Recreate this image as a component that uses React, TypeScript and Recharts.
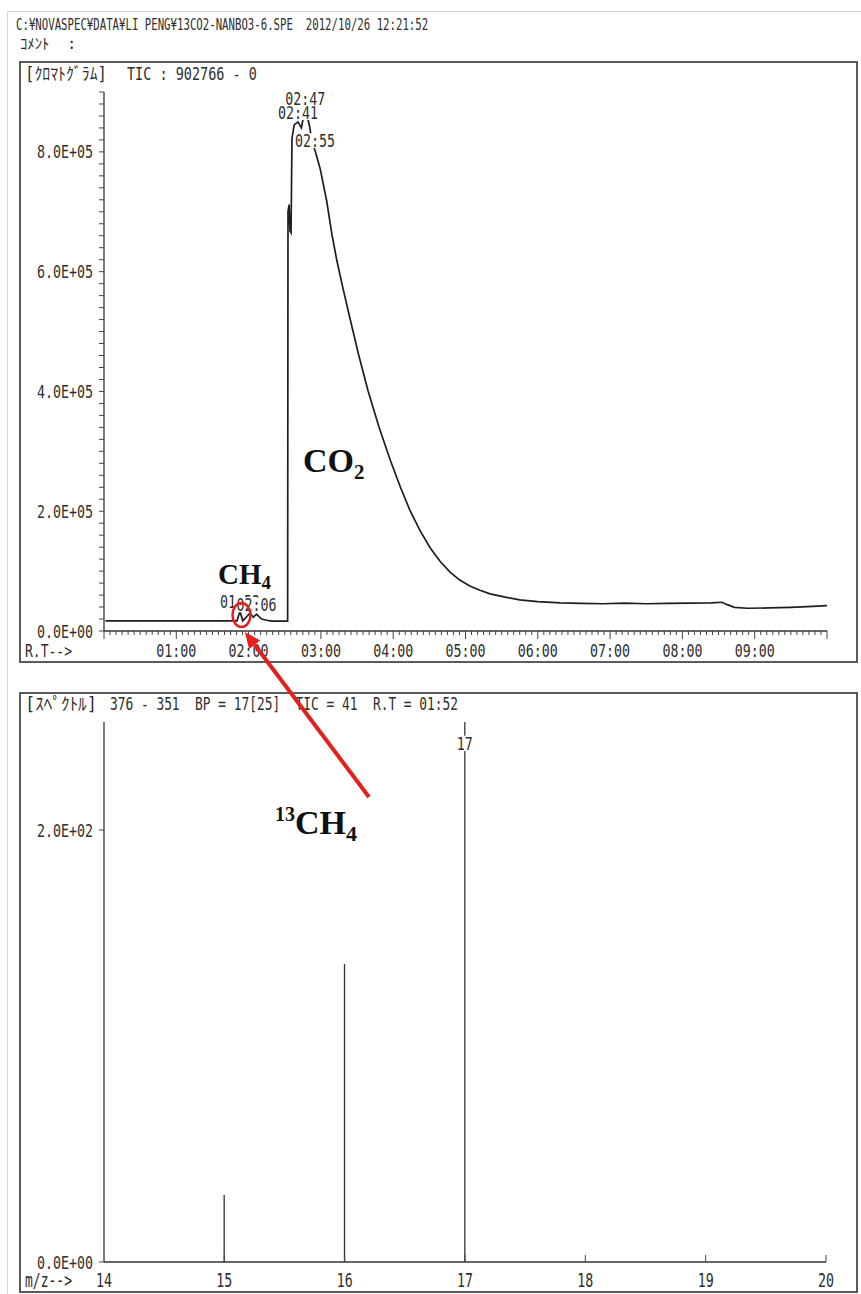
import React from 'react';
import { ComposedChart, Line, Bar, XAxis, YAxis, LabelList } from 'recharts';

// ---------- chromatogram (TIC) ----------
const timeMin = [0.02, 1.84, 1.88, 1.92, 2.02, 2.065, 2.11, 2.18, 2.25, 2.32, 2.54, 2.545, 2.56, 2.573, 2.587, 2.6, 2.63, 2.683, 2.73, 2.783, 2.84, 2.88, 2.917, 2.99, 3.08, 3.15, 3.22, 3.3, 3.4, 3.52, 3.65, 3.8, 3.96, 4.1, 4.23, 4.37, 4.51, 4.65, 4.79, 4.92, 5.06, 5.2, 5.34, 5.55, 5.75, 6.0, 6.31, 6.6, 6.9, 7.2, 7.5, 7.8, 8.1, 8.4, 8.55, 8.62, 8.72, 8.9, 9.2, 9.5, 9.8, 10.0];
const ticCounts = [17000, 17000, 33000, 17000, 30000, 23000, 28000, 20000, 18000, 16500, 16500, 700000, 712000, 668000, 665000, 822000, 845000, 850000, 840000, 873000, 845000, 815000, 803000, 772000, 718000, 664000, 619000, 575000, 523000, 462000, 402000, 342000, 285000, 240000, 202000, 168000, 139000, 116000, 98000, 85000, 75000, 68000, 62000, 56500, 52000, 49000, 47000, 46000, 45500, 46500, 45500, 46000, 46500, 47000, 48000, 44000, 39500, 38000, 38500, 39500, 41000, 42500];

const peakTimes = [1.88, 2.11, 2.683, 2.783, 2.917];
const peakTexts = ['01:52', '02:06', '02:41', '02:47', '02:55'];

const minuteTicks = [1, 2, 3, 4, 5, 6, 7, 8, 9];
const minuteLabels = ['01:00', '02:00', '03:00', '04:00', '05:00', '06:00', '07:00', '08:00', '09:00'];
const ticMajorValues = [0, 200000, 400000, 600000, 800000];
const ticMajorLabels = ['0.0E+00', '2.0E+05', '4.0E+05', '6.0E+05', '8.0E+05'];

// ---------- mass spectrum ----------
const mzValues = [15, 16, 17];
const mzIntensity = [31, 138, 250];
const mzPeakLabels = ['', '', '17'];
const mzTicks = [14, 15, 16, 17, 18, 19, 20];
const mzTickLabels = ['14', '15', '16', '17', '18', '19', '20'];
const specMajorValues = [0, 200];
const specMajorLabels = ['0.0E+00', '2.0E+02'];

const ticData = timeMin.map((t, i) => ({ t, v: ticCounts[i] }));
const peakData = peakTimes.map((t, i) => ({ t, v: ticCounts[timeMin.indexOf(t)], text: peakTexts[i] }));
const specData = mzValues.map((mz, i) => ({ mz, i: mzIntensity[i], label: mzPeakLabels[i] }));
const ticMinorTicks = Array.from({ length: 121 }, (_, k) => k / 12);
const ticYTicks = Array.from({ length: 46 }, (_, k) => k * 20000);

const MONO = "'DejaVu Sans Mono', 'Noto Sans CJK JP', monospace";
const INK = '#2e2e2e';

function Mono({ x, y, text, cw = 8, w, anchor = 'start', h = 1.3, bg = false, fill = INK }: any) {
  const len = w ?? text.length * cw;
  const fs = cw / 0.602;
  const x0 = anchor === 'middle' ? x - len / 2 : anchor === 'end' ? x - len : x;
  return (
    <g transform={`translate(${x0},${y}) scale(1,${h})`}>
      {bg && <rect x={-1} y={-fs * 0.8} width={len + 2} height={fs * 0.86} fill="#fff" />}
      <text x={0} y={0} fontFamily={MONO} fontSize={fs} textLength={len} lengthAdjust="spacingAndGlyphs"
        fill={fill} xmlSpace="preserve" style={{ whiteSpace: 'pre' }}>{text}</text>
    </g>
  );
}

const XTickTop = (props: any) => {
  const { x, y, payload } = props;
  const k = Math.round(payload.value * 12);
  const major = k % 12 === 0;
  const idx = minuteTicks.indexOf(k / 12);
  return (
    <g>
      <line x1={x} x2={x} y1={y} y2={y + (major ? 8 : 4)} stroke="#444" strokeWidth={1} />
      {major && idx >= 0 && <Mono x={x} y={y + 26} text={minuteLabels[idx]} anchor="middle" h={1.35} />}
    </g>
  );
};

const YTickTop = (props: any) => {
  const { x, y, payload } = props;
  const idx = ticMajorValues.indexOf(payload.value);
  return (
    <g>
      <line x1={x - 5} x2={x} y1={y} y2={y} stroke="#444" strokeWidth={1} />
      {idx >= 0 && <Mono x={x - 11} y={y + 6.5} text={ticMajorLabels[idx]} anchor="end" />}
    </g>
  );
};

const XTickBottom = (props: any) => {
  const { x, y, payload } = props;
  const idx = mzTicks.indexOf(payload.value);
  return (
    <g>
      {payload.value !== 14 && <line x1={x} x2={x} y1={y} y2={y - 7} stroke="#444" strokeWidth={1} />}
      {idx >= 0 && <Mono x={x} y={y + 25} text={mzTickLabels[idx]} anchor="middle" h={1.4} />}
    </g>
  );
};

const YTickBottom = (props: any) => {
  const { x, y, payload } = props;
  const idx = specMajorValues.indexOf(payload.value);
  return (
    <g>
      <line x1={x - 5} x2={x} y1={y} y2={y} stroke="#444" strokeWidth={1} />
      {idx >= 0 && <Mono x={x - 11} y={y + 6.5} text={specMajorLabels[idx]} anchor="end" />}
    </g>
  );
};

const PeakLabelContent = (p: any) => {
  const text = peakTexts[p.index];
  if (!text) return null;
  return <Mono key={p.index} x={p.x} y={p.y - 3} text={text} anchor="middle" bg h={1.3} />;
};

const StickShape = (p: any) => {
  const cx = p.x + p.width / 2;
  return <line x1={cx} x2={cx} y1={p.y} y2={p.y + p.height} stroke="#333" strokeWidth={1.3} />;
};

const StickLabel = (p: any) => {
  if (!p.value) return null;
  const cx = p.x + p.width / 2;
  return <Mono x={cx} y={p.y + 28} text={String(p.value)} anchor="middle" bg h={1.35} />;
};

export default function App() {
  const axisStroke = { stroke: '#333', strokeWidth: 1.3 };
  return (
    <div style={{ position: 'absolute', left: 0, top: 0, width: 861, height: 1294, background: '#fff', overflow: 'hidden' }}>
      <div style={{ position: 'absolute', left: 0, top: 0 }}>
        <ComposedChart width={861} height={662} data={ticData} margin={{ top: 92, right: 34, bottom: 0, left: 0 }}>
          <XAxis dataKey="t" type="number" domain={[0, 10]} ticks={ticMinorTicks} interval={0} height={31}
            tickSize={0} tickMargin={0} tickLine={false} axisLine={axisStroke} tick={XTickTop} allowDataOverflow />
          <YAxis type="number" domain={[0, 900000]} ticks={ticYTicks} interval={0} width={104}
            tickSize={0} tickMargin={0} tickLine={false} axisLine={axisStroke} tick={YTickTop} allowDataOverflow />
          <Line dataKey="v" type="linear" stroke="#1e1e1e" strokeWidth={1.7} dot={false} isAnimationActive={false} />
          <Line data={peakData} dataKey="v" type="linear" stroke="none" dot={false} legendType="none"
            isAnimationActive={false} label={PeakLabelContent} />
        </ComposedChart>
      </div>
      <div style={{ position: 'absolute', left: 0, top: 0 }}>
        <ComposedChart width={861} height={1294} data={specData} margin={{ top: 722, right: 35, bottom: 0, left: 0 }}>
          <XAxis dataKey="mz" type="number" domain={[14, 20]} ticks={mzTicks} interval={0} height={32}
            tickSize={0} tickMargin={0} tickLine={false} axisLine={axisStroke} tick={XTickBottom} allowDataOverflow />
          <YAxis type="number" domain={[0, 250]} ticks={specMajorValues} interval={0} width={104}
            tickSize={0} tickMargin={0} tickLine={false} axisLine={axisStroke} tick={YTickBottom} allowDataOverflow />
          <Bar dataKey="i" barSize={2} shape={StickShape} isAnimationActive={false}>
            <LabelList dataKey="label" content={StickLabel} />
          </Bar>
        </ComposedChart>
      </div>
      <svg width={861} height={1294} style={{ position: 'absolute', left: 0, top: 0, pointerEvents: 'none' }}>
        <line x1={7.5} y1={11.5} x2={861} y2={11.5} stroke="#d6d6d6" strokeWidth={1} />
        <line x1={7.5} y1={11.5} x2={7.5} y2={1294} stroke="#d6d6d6" strokeWidth={1} />
        <Mono x={16} y={30} text="C:¥NOVASPEC¥DATA¥LI PENG¥13CO2-NANBO3-6.SPE  2012/10/26 12:21:52" cw={6.44} h={1.4} />
        <Mono x={20} y={49} text="ｺﾒﾝﾄ  :" w={56} cw={7.5} h={1.2} />
        <rect x={20} y={62} width={837} height={600} fill="none" stroke="#4a4a4a" strokeWidth={1.8} />
        <Mono x={25} y={80} text="[ｸﾛﾏﾄｸﾞﾗﾑ]" w={82} />
        <Mono x={127} y={80} text="TIC : 902766 - 0" w={130} />
        <Mono x={25} y={657} text="R.T-->" w={47} h={1.35} />
        <rect x={20} y={693} width={837} height={599} fill="none" stroke="#4a4a4a" strokeWidth={1.8} />
        <Mono x={25} y={710} text="[ｽﾍﾟｸﾄﾙ]" w={72} />
        <Mono x={110} y={710} text="376 - 351  BP = 17[25]  TIC = 41  R.T = 01:52" w={348} />
        <Mono x={25} y={1287} text="m/z-->" w={47} h={1.4} />
        <text x={218} y={584} fontFamily="'Liberation Serif', serif" fontWeight="bold" fontSize={29} fill="#111">
          CH<tspan fontSize={19} dy={5}>4</tspan>
        </text>
        <text x={303} y={472} fontFamily="'Liberation Serif', serif" fontWeight="bold" fontSize={34} fill="#111">
          CO<tspan fontSize={21} dy={7}>2</tspan>
        </text>
        <text x={275} y={834} fontFamily="'Liberation Serif', serif" fontWeight="bold" fontSize={34} fill="#111">
          <tspan fontSize={20} dy={-13}>13</tspan><tspan dy={13}>CH</tspan><tspan fontSize={22} dy={7}>4</tspan>
        </text>
        <ellipse cx={241.5} cy={615} rx={9} ry={12} fill="none" stroke="#e3201b" strokeWidth={2.5} />
        <line x1={369} y1={797} x2={254.6} y2={644.8} stroke="#e3201b" strokeWidth={4} />
        <polygon points="245,632 260.2,640.6 249,649" fill="#e3201b" />
      </svg>
    </div>
  );
}
